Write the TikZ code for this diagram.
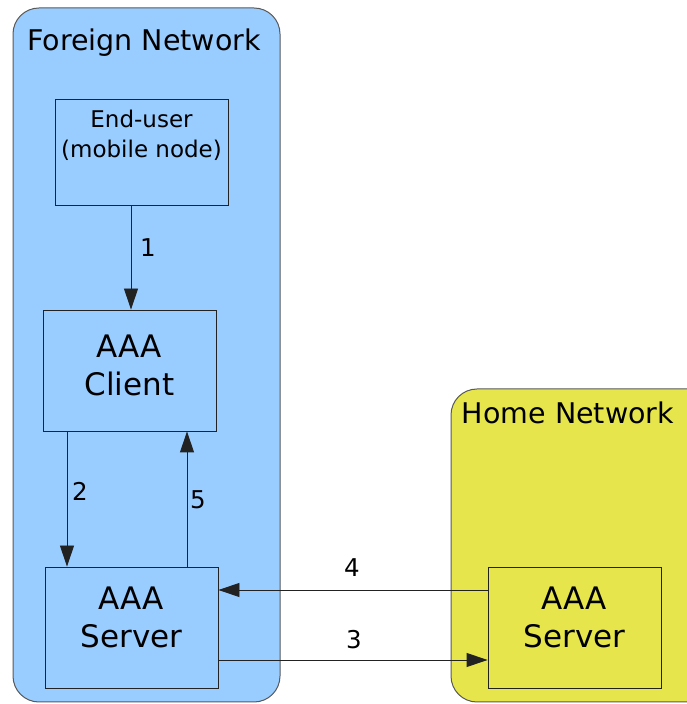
\documentclass[tikz,border=0pt]{standalone}
\usepackage{fontspec}
\setmainfont{DejaVu Sans}
\usetikzlibrary{arrows.meta}
\definecolor{foreignfill}{HTML}{99CCFF}
\definecolor{homefill}{HTML}{E6E64C}
\definecolor{edge}{HTML}{222222}
\begin{document}
\begin{tikzpicture}[x=1pt,y=1pt,
  region/.style={draw=black!65, line width=1pt, rounded corners=26pt},
  boxnode/.style={draw=edge, line width=0.9pt, inner sep=0pt},
  arr/.style={line width=0.9pt, draw=edge, -{Triangle[length=21pt,width=14pt]}},
  title/.style={font=\fontsize{28.5}{32}\selectfont},
  small/.style={font=\fontsize{23}{30}\selectfont, align=center},
  big/.style={font=\fontsize{31}{38}\selectfont, align=center},
  num/.style={font=\fontsize{24.5}{28}\selectfont}]
\useasboundingbox (0,0) rectangle (687,704);
\clip (0,0) rectangle (687,704);

% network regions
\draw[region, fill=foreignfill] (13,2) rectangle (280,696);
\draw[region, fill=homefill] (451,2) rectangle (716,315);
\node[title] (fn) at (144,661) {Foreign Network};
\node[title] (hn) at (568,291) {Home Network};

% boxes
\node[boxnode, minimum width=173pt, minimum height=106pt] (eu) at (141.5,552) {};
\node[boxnode, minimum width=173pt, minimum height=121pt] (cl) at (129.5,333.5) {};
\node[boxnode, minimum width=173pt, minimum height=121pt] (sl) at (131.5,76.5) {};
\node[boxnode, minimum width=173pt, minimum height=121pt] (sh) at (574.5,76.5) {};

% box texts
\node[small] (eut) at (141.5,569) {End-user\\(mobile node)};
\node[big] (clt) at (129.5,339) {AAA\\Client};
\node[big] (slt) at (131.5,87) {AAA\\Server};
\node[big] (sht) at (574.5,87) {AAA\\Server};

% connector positions
\coordinate (x1) at (131,0);
\coordinate (x2) at (67,0);
\coordinate (x5) at (187,0);
\coordinate (y4) at (0,114);
\coordinate (y3) at (0,44);

\draw[arr] (eu.south -| x1) -- (cl.north -| x1);
\draw[arr] (cl.south -| x2) -- (sl.north -| x2);
\draw[arr] (sl.north -| x5) -- (cl.south -| x5);
\draw[arr] (sh.west |- y4) -- (sl.east |- y4);
\draw[arr] (sl.east |- y3) -- (sh.west |- y3);

% message numbers
\node[num] (n1) at (148,456) {1};
\node[num] (n2) at (80,213) {2};
\node[num] (n5) at (198,204) {5};
\node[num] (n4) at (352,136) {4};
\node[num] (n3) at (354,64) {3};
\end{tikzpicture}
\end{document}
